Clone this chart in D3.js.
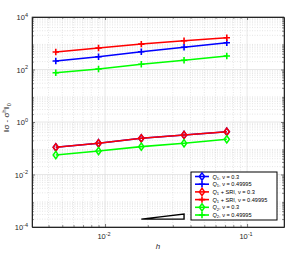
<!DOCTYPE html>
<html lang="en">
<head>
<meta charset="UTF-8">
<title>Error vs h</title>
<script src="https://d3js.org/d3.v7.min.js"></script>
<style>
  body { margin: 0; background: #fff; }
  text { font-family: "Liberation Sans", Arial, sans-serif; }
</style>
</head>
<body>
<div id="chart"></div>
<script>
// mesh sizes
const h = [0.0045, 0.009, 0.018, 0.036, 0.072];

// error values per series
const q1Nu03 = [0.109, 0.155, 0.239, 0.32, 0.427];
const q1Nu049 = [211, 307, 477, 701, 1050];
const sriNu03 = [0.109, 0.155, 0.239, 0.32, 0.427];
const sriNu049 = [464, 659, 930, 1250, 1626];
const q2Nu03 = [0.0553, 0.0785, 0.115, 0.155, 0.219];
const q2Nu049 = [75.5, 104, 158, 224, 327];

const seriesValues = [q1Nu03, q1Nu049, sriNu03, sriNu049, q2Nu03, q2Nu049];
const seriesColors = ['#0000ff', '#0000ff', '#ff0000', '#ff0000', '#00ff00', '#00ff00'];
const seriesMarkers = ['diamond', 'plus', 'diamond', 'plus', 'diamond', 'plus'];

const yTickExp = [-4, -2, 0, 2, 4];
const xTickExp = [-2, -1];

// slope triangle
const triX = [0.018, 0.036];
const triY = [2.0e-4, 3.1e-4];

const W = 293, H = 255;
const m = { left: 32, right: 9, top: 17, bottom: 28 };

const svg = d3.select('#chart').append('svg')
  .attr('width', W).attr('height', H);

const x = d3.scaleLog().domain([0.00306, 0.182]).range([m.left, W - m.right]);
const y = d3.scaleLog().domain([1e-4, 1e4]).range([H - m.bottom, m.top]);

const [x0, x1] = x.range();
const [y1, y0] = y.range();

// minor grid
const xMinor = [], yMinor = [];
for (let e = -3; e <= 0; e++) for (let k = 2; k <= 9; k++) {
  const v = k * Math.pow(10, e);
  if (v > x.domain()[0] && v < x.domain()[1]) xMinor.push(v);
}
for (let e = -4; e < 4; e++) for (let k = 2; k <= 9; k++) yMinor.push(k * Math.pow(10, e));

const grid = svg.append('g');
grid.selectAll('.xm').data(xMinor).enter().append('line')
  .attr('x1', d => x(d)).attr('x2', d => x(d)).attr('y1', y0).attr('y2', y1)
  .attr('stroke', '#d4d4d4').attr('stroke-width', 0.6).attr('stroke-dasharray', '1,1.5');
grid.selectAll('.ym').data(yMinor).enter().append('line')
  .attr('y1', d => y(d)).attr('y2', d => y(d)).attr('x1', x0).attr('x2', x1)
  .attr('stroke', '#d4d4d4').attr('stroke-width', 0.6).attr('stroke-dasharray', '1,1.5');
grid.selectAll('.xM').data(xTickExp).enter().append('line')
  .attr('x1', d => x(Math.pow(10, d))).attr('x2', d => x(Math.pow(10, d))).attr('y1', y0).attr('y2', y1)
  .attr('stroke', '#dcdcdc').attr('stroke-width', 0.7);
grid.selectAll('.yM').data(yTickExp).enter().append('line')
  .attr('y1', d => y(Math.pow(10, d))).attr('y2', d => y(Math.pow(10, d))).attr('x1', x0).attr('x2', x1)
  .attr('stroke', '#dcdcdc').attr('stroke-width', 0.7);

// axes with ticks on all four sides
const axisCol = '#262626';
const addAxis = (axis, tx, ty) => {
  const g = svg.append('g').attr('transform', `translate(${tx},${ty})`).call(axis);
  g.selectAll('text').remove();
  g.select('.domain').attr('stroke', axisCol);
  g.selectAll('line').attr('stroke', axisCol).attr('stroke-width', 0.6);
  return g;
};
const xAll = xTickExp.map(d => Math.pow(10, d)).concat(xMinor);
const yAll = yTickExp.map(d => Math.pow(10, d)).concat(yMinor);
const majorX = v => xTickExp.some(e => Math.abs(Math.log10(v) - e) < 1e-9);
const majorY = v => yTickExp.some(e => Math.abs(Math.log10(v) - e) < 1e-9);

addAxis(d3.axisBottom(x).tickValues(xAll).tickSizeOuter(0), 0, y1)
  .selectAll('.tick line').attr('y2', d => majorX(d) ? -3 : -1.8);
addAxis(d3.axisTop(x).tickValues(xAll).tickSizeOuter(0), 0, y0)
  .selectAll('.tick line').attr('y2', d => majorX(d) ? 3 : 1.8);
addAxis(d3.axisLeft(y).tickValues(yAll).tickSizeOuter(0), x0, 0)
  .selectAll('.tick line').attr('x2', d => majorY(d) ? 3 : 1.8);
addAxis(d3.axisRight(y).tickValues(yAll).tickSizeOuter(0), x1, 0)
  .selectAll('.tick line').attr('x2', d => majorY(d) ? -3 : -1.8);

// tick labels
const yLab = svg.append('g').selectAll('text').data(yTickExp).enter().append('text')
  .attr('x', x0 - 4).attr('y', d => y(Math.pow(10, d)) + 3)
  .attr('text-anchor', 'end').attr('font-size', 7.5).attr('fill', axisCol);
yLab.append('tspan').text('10');
yLab.append('tspan').attr('dy', -3.5).attr('font-size', 5.5).text(d => d);

const xLab = svg.append('g').selectAll('text').data(xTickExp).enter().append('text')
  .attr('x', d => x(Math.pow(10, d)) - 1).attr('y', y1 + 12)
  .attr('text-anchor', 'middle').attr('font-size', 7.5).attr('fill', axisCol);
xLab.append('tspan').text('10');
xLab.append('tspan').attr('dy', -3.5).attr('font-size', 5.5).text(d => d);

// axis titles
svg.append('text').attr('x', (x0 + x1) / 2).attr('y', y1 + 22)
  .attr('text-anchor', 'middle').attr('font-size', 8).attr('font-style', 'italic')
  .attr('font-family', 'DejaVu Serif').attr('fill', axisCol).text('h');

const yt = svg.append('text').attr('transform', `translate(9,${(y0 + y1) / 2 - 4}) rotate(-90)`)
  .attr('text-anchor', 'middle').attr('font-size', 8).attr('font-family', 'DejaVu Serif').attr('fill', axisCol);
yt.append('tspan').text('\u2016\u03c3 - \u03c3');
yt.append('tspan').attr('dy', -3).attr('font-size', 5.5).text('h');
yt.append('tspan').attr('dy', 3).text('\u2016');
yt.append('tspan').attr('dy', 2).attr('font-size', 5.5).text('0');

// series
const line = d3.line().x((d, i) => x(h[i])).y(d => y(d));
const drawMarker = (g, type, cx, cy, col) => {
  if (type === 'plus') {
    g.append('path').attr('d', `M${cx - 3.2},${cy}H${cx + 3.2}M${cx},${cy - 3.2}V${cy + 3.2}`)
      .attr('stroke', col).attr('stroke-width', 1.6).attr('fill', 'none');
  } else {
    g.append('path').attr('d', `M${cx},${cy - 3.6}L${cx + 2.6},${cy}L${cx},${cy + 3.6}L${cx - 2.6},${cy}Z`)
      .attr('stroke', col).attr('stroke-width', 1.5).attr('fill', 'none');
  }
};
seriesValues.forEach((vals, s) => {
  const g = svg.append('g');
  g.append('path').datum(vals).attr('d', line)
    .attr('fill', 'none').attr('stroke', seriesColors[s]).attr('stroke-width', 1.6);
  vals.forEach((v, i) => drawMarker(g, seriesMarkers[s], x(h[i]), y(v), seriesColors[s]));
});

// slope triangle
svg.append('path')
  .attr('d', `M${x(triX[0])},${y(triY[0])}L${x(triX[1])},${y(triY[1])}L${x(triX[1])},${y(triY[0])}Z`)
  .attr('fill', 'none').attr('stroke', '#000').attr('stroke-width', 1.4);

// axes box
svg.append('rect').attr('x', x0).attr('y', y0).attr('width', x1 - x0).attr('height', y1 - y0)
  .attr('fill', 'none').attr('stroke', axisCol).attr('stroke-width', 0.6);

// legend
const legendLabels = [
  ['Q', '1', ', \u03bd = 0.3'],
  ['Q', '1', ', \u03bd = 0.49995'],
  ['Q', '1', ' + SRI, \u03bd = 0.3'],
  ['Q', '1', ' + SRI, \u03bd = 0.49995'],
  ['Q', '2', ', \u03bd = 0.3'],
  ['Q', '2', ', \u03bd = 0.49995']
];
const lg = svg.append('g').attr('transform', 'translate(191,172)');
lg.append('rect').attr('width', 86).attr('height', 48)
  .attr('fill', '#fff').attr('stroke', '#000').attr('stroke-width', 1);
legendLabels.forEach((lab, i) => {
  const ry = 4.5 + i * 7.7;
  lg.append('line').attr('x1', 4).attr('x2', 18).attr('y1', ry).attr('y2', ry)
    .attr('stroke', seriesColors[i]).attr('stroke-width', 1.6);
  drawMarker(lg, seriesMarkers[i], 11, ry, seriesColors[i]);
  const t = lg.append('text').attr('x', 21.5).attr('y', ry + 2)
    .attr('font-size', 5.6).attr('font-family', 'DejaVu Serif').attr('fill', '#000');
  t.append('tspan').attr('font-style', 'italic').text(lab[0]);
  t.append('tspan').attr('dy', 1.2).attr('font-size', 4).text(lab[1]);
  t.append('tspan').attr('dy', -1.2).text(lab[2]);
});
</script>
</body>
</html>
